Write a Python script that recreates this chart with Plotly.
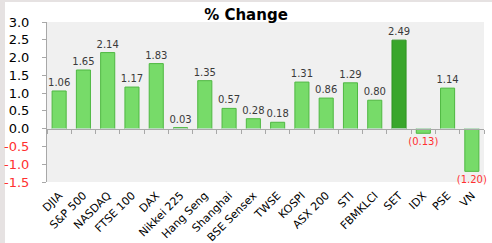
import plotly.graph_objects as go

categories = ["DJIA", "S&P 500", "NASDAQ", "FTSE 100", "DAX", "Nikkei 225", "Hang Seng",
              "Shanghai", "BSE Sensex", "TWSE", "KOSPI", "ASX 200", "STI", "FBMKLCI",
              "SET", "IDX", "PSE", "VN"]
values = [1.06, 1.65, 2.14, 1.17, 1.83, 0.03, 1.35, 0.57, 0.28, 0.18, 1.31, 0.86, 1.29,
          0.80, 2.49, -0.13, 1.14, -1.20]
highlight = "SET"
y_ticks = [3.0, 2.5, 2.0, 1.5, 1.0, 0.5, 0.0, -0.5, -1.0, -1.5]

W, H = 492, 243
ML, MR, MT, MB = 47, 8, 22, 61
PW, PH = W - ML - MR, H - MT - MB

RED = "#ff3030"
fill = ["#39a62b" if c == highlight else "#77db69" for c in categories]
edge = ["#2f9322" if c == highlight else "#4fb842" for c in categories]
labels = [f"{v:.2f}" if v >= 0 else f"({abs(v):.2f})" for v in values]
label_colors = ["#3a3a3a" if v >= 0 else RED for v in values]

tick_text = [f"{t:.1f}" if t >= 0 else f'<span style="color:{RED}">{t:.1f}</span>' for t in y_ticks]
x_range = [-0.5, len(categories) - 0.5]

fig = go.Figure()
fig.add_trace(go.Bar(
    x=categories, y=values, width=0.58,
    marker=dict(color=fill, line=dict(color=edge, width=1)),
    text=labels, textposition="outside", cliponaxis=False, constraintext="none",
    textfont=dict(family="DejaVu Sans", size=10, color=label_colors),
    hoverinfo="skip",
))
fig.add_trace(go.Bar(x=categories, y=[0] * len(categories), xaxis="x2",
                     showlegend=False, hoverinfo="skip", marker=dict(color="rgba(0,0,0,0)")))

def px_x(p):
    return (p - ML) / PW

def px_y(p):
    return (H - MB - p) / PH

fig.update_layout(
    width=W, height=H,
    margin=dict(l=ML, r=MR, t=MT, b=MB, pad=0, autoexpand=False),
    paper_bgcolor="white", plot_bgcolor="#f0f0f0",
    showlegend=False, bargap=0.42,
    uniformtext=dict(mode=False),
    title=dict(text="<b>% Change</b>", x=0.5, xanchor="center", y=1 - 15 / H, yanchor="middle",
               font=dict(family="DejaVu Sans", size=15, color="black")),
    xaxis=dict(type="category", range=x_range, showgrid=False, showline=False, ticks="",
               tickangle=-45, automargin=False, ticklabelstandoff=4,
               tickfont=dict(family="DejaVu Sans", size=11, color="black"), zeroline=False),
    xaxis2=dict(type="category", overlaying="x", range=x_range, anchor="free",
                position=(0 - y_ticks[-1]) / (y_ticks[0] - y_ticks[-1]),
                showline=True, linecolor="#a8a8a8", linewidth=1, ticks="outside",
                tickson="boundaries", ticklen=4, tickcolor="#a8a8a8", showticklabels=False,
                showgrid=False, zeroline=False, automargin=False),
    yaxis=dict(range=[y_ticks[-1], y_ticks[0]], tickvals=y_ticks, ticktext=tick_text,
               showgrid=False, zeroline=False, showline=True, linecolor="#a8a8a8",
               ticks="outside", ticklen=4, tickcolor="#a8a8a8", ticklabelstandoff=10,
               automargin=False,
               tickfont=dict(family="DejaVu Sans", size=13, color="black")),
    shapes=[
        dict(type="rect", xref="paper", yref="paper", x0=px_x(0), x1=px_x(5),
             y0=px_y(H), y1=px_y(0), fillcolor="#e6e2e2", line=dict(width=0), layer="below"),
        dict(type="rect", xref="paper", yref="paper", x0=px_x(0), x1=px_x(W),
             y0=px_y(2), y1=px_y(0), fillcolor="#e6e2e2", line=dict(width=0), layer="below"),
    ],
)

fig.write_html("out.html", config={"displayModeBar": False},
               post_script="document.body.style.margin='0';document.body.style.overflow='hidden';")
